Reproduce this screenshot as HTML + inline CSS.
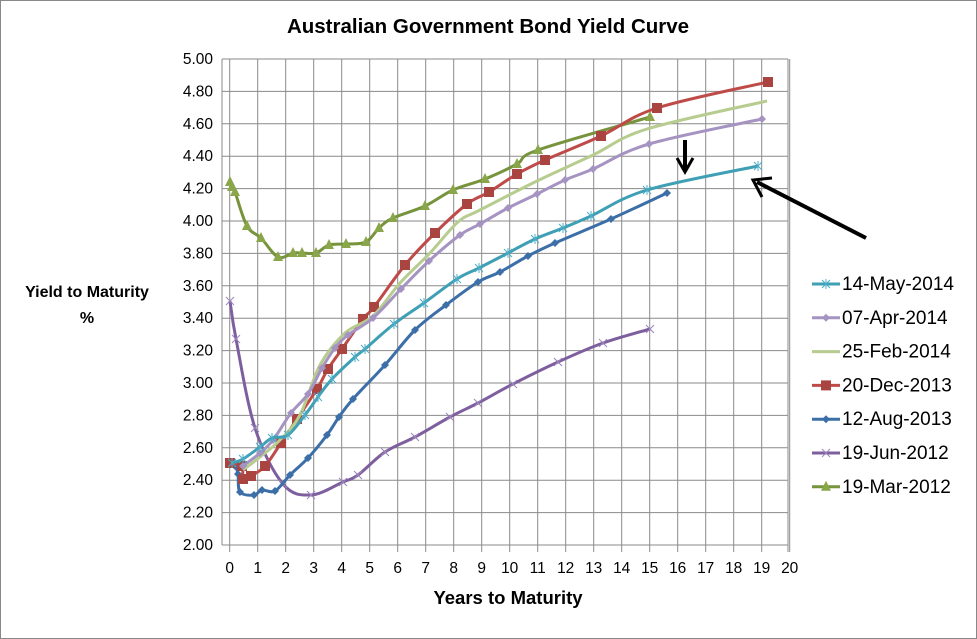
<!DOCTYPE html>
<html><head><meta charset="utf-8"><style>
html,body{margin:0;padding:0;background:#fff}
svg{display:block;font-family:"Liberation Sans",Calibri,sans-serif}
</style></head><body>
<svg id="s" width="977" height="639" viewBox="0 0 977 639" xmlns="http://www.w3.org/2000/svg">
<rect x="0.5" y="0.5" width="976" height="638" fill="#fff" stroke="#888"/>
<text x="488" y="33" text-anchor="middle" font-size="20.5" font-weight="bold">Australian Government Bond Yield Curve</text>
<text x="87" y="297" text-anchor="middle" font-size="16" font-weight="bold">Yield to Maturity</text>
<text x="87" y="323" text-anchor="middle" font-size="16" font-weight="bold">%</text>
<text x="508" y="604" text-anchor="middle" font-size="18.5" font-weight="bold">Years to Maturity</text>
<g id="grid"></g>
<g id="series"></g>
<g id="legend"></g>
<g stroke="#000" stroke-width="4" fill="none">
<line x1="685" y1="140" x2="685" y2="170"/>
<polyline points="677,158 685,172 693,158" stroke-width="3"/>
<line x1="866" y1="238" x2="757" y2="182"/>
<polyline points="762,197 753,180 772,178" stroke-width="3"/>
</g>
</svg>
<script>
var NS="http://www.w3.org/2000/svg";
function el(p,t,a,txt){var e=document.createElementNS(NS,t);for(var k in a)e.setAttribute(k,a[k]);if(txt!=null)e.textContent=txt;p.appendChild(e);return e;}
var g=document.getElementById('grid');
var X=function(t){return 229.7+28*t};var Y=function(v){return 545-162*(v-2)};
for(var i=0;i<=15;i++){var v=2+i*0.2,y=Y(v);el(g,'line',{x1:222,x2:788,y1:y,y2:y,stroke:'#8a8a8a','stroke-width':1});
el(g,'text',{x:213,y:y+5,'text-anchor':'end','font-size':15.5},v.toFixed(2));}
for(var i=0;i<=20;i++){var x=X(i);el(g,'line',{x1:x,x2:x,y1:59,y2:552,stroke:'#8a8a8a','stroke-width':1});
el(g,'text',{x:x,y:573,'text-anchor':'middle','font-size':15.5},i);}
el(g,'line',{x1:788,x2:788,y1:59,y2:552,stroke:'#8a8a8a'});
el(g,'line',{x1:222,x2:222,y1:59,y2:545,stroke:'#8a8a8a'});
function P(s){return s.trim().split(/\s+/).map(function(p){return p.split(',').map(Number)});}
function path(pts){var d='M'+pts[0][0]+','+pts[0][1];for(var i=0;i<pts.length-1;i++){var p0=pts[i-1]||pts[i],p1=pts[i],p2=pts[i+1],p3=pts[i+2]||p2;var t=0.17;
d+=' C'+(p1[0]+(p2[0]-p0[0])*t)+','+(p1[1]+(p2[1]-p0[1])*t)+' '+(p2[0]-(p3[0]-p1[0])*t)+','+(p2[1]-(p3[1]-p1[1])*t)+' '+p2[0]+','+p2[1];}return d;}
function marker(p,type,x,y,c){
 if(type=='sq')el(p,'rect',{x:x-5,y:y-5,width:10,height:10,fill:c});
 else if(type=='dia')el(p,'polygon',{points:(x)+','+(y-4)+' '+(x+4)+','+y+' '+x+','+(y+4)+' '+(x-4)+','+y,fill:c});
 else if(type=='tri')el(p,'polygon',{points:x+','+(y-6)+' '+(x+5)+','+(y+4)+' '+(x-5)+','+(y+4),fill:c});
 else if(type=='x'||type=='star'){el(p,'path',{d:'M'+(x-4)+','+(y-4)+'L'+(x+4)+','+(y+4)+'M'+(x-4)+','+(y+4)+'L'+(x+4)+','+(y-4)+(type=='star'?'M'+x+','+(y-5)+'L'+x+','+(y+5):''),stroke:c,'stroke-width':1,fill:'none'});}
}
var S=[
{c:'#77933C',m:'tri',mc:'#8AA64A',p:'230,182 232,187 235,192 247,226 261,238 278,257 293,253 302,253 316,253 329,245 346,244 366,242 379,228 393,218 425,206 453,190 485,179 517,164 538,150 650,117'},
{c:'#7E5F9E',m:'x',mc:'#9B85BB',p:'230,301 236,339 255,428 283,484 311,495 343,482 358,475 385,452 415,437 450,417 478,403 513,384 558,362 603,343 650,329'},
{c:'#3C6EA8',m:'dia',mc:'#3C6EA8',p:'230,463 235,466 238,474 240,492 254,495 262,490 275,491 290,475 308,458 327,435 339,417 353,399 385,365 415,330 446,305 478,282 500,272 528,256 555,243 611,219 667,193'},
{c:'#BE4B48',m:'sq',mc:'#A94441',p:'230,463 242,466 243,479 251,476 265,466 281,443 297,419 317,389 328,369 342,349 363,319 374,307 405,265 435,233 467,204 489,192 517,174 545,160 601,136 657,108 768,82'},
{c:'#B7CC8F',m:null,p:'243,470 260,457 280,440 300,415 320,365 345,333 373,316 400,283 430,253 458,222 480,210 537,181 593,155 647,129 767,101'},
{c:'#A593C2',m:'dia',mc:'#A593C2',p:'243,466 260,453 273,440 291,413 308,394 322,368 335,348 348,335 373,318 401,289 429,261 460,235 480,224 508,208 537,194 565,180 593,169 649,144 762,119'},
{c:'#3F9FB5',m:'star',mc:'#4BACC6',p:'232,463 243,459 260,447 272,438 288,435 305,415 318,397 332,379 355,357 365,349 394,324 424,303 457,279 479,268 508,253 535,239 563,228 591,216 647,190 758,166'}
];
var sg=document.getElementById('series');
S.forEach(function(s){var pts=P(s.p);el(sg,'path',{d:path(pts),fill:'none',stroke:s.c,'stroke-width':3,'stroke-linejoin':'round'});
 if(s.m)pts.forEach(function(q){marker(sg,s.m,q[0],q[1],s.mc);});});
var L=[['14-May-2014',6],['07-Apr-2014',5],['25-Feb-2014',4],['20-Dec-2013',3],['12-Aug-2013',2],['19-Jun-2012',1],['19-Mar-2012',0]];
var lg=document.getElementById('legend');
L.forEach(function(l,i){var y=284+i*33.8,s=S[l[1]];el(lg,'line',{x1:812,x2:840,y1:y,y2:y,stroke:s.c,'stroke-width':3});
 if(s.m)marker(lg,s.m,826,y,s.mc);
 el(lg,'text',{x:842,y:y+6,'font-size':19},l[0]);});
</script>
</body></html>
